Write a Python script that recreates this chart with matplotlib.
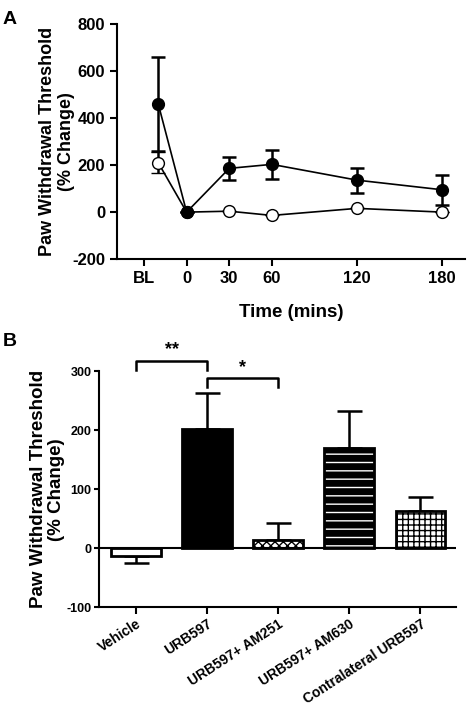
import matplotlib.pyplot as plt
import numpy as np

plt.rcParams['font.family'] = ['Liberation Sans', 'DejaVu Sans']
plt.rcParams['font.weight'] = 'bold'
plt.rcParams['axes.labelweight'] = 'bold'
plt.rcParams['axes.unicode_minus'] = False

# Panel A data
time_x = [-20, 0, 30, 60, 120, 180]
tick_pos = [-30, 0, 30, 60, 120, 180]
tick_lbl = ['BL', '0', '30', '60', '120', '180']
urb_mean = [460, 0, 186, 203, 136, 95]
urb_err = [200, 0, 48, 61, 53, 64]
ctrl_mean = [210, 0, 4, -14, 16, 0]
ctrl_err = [45, 0, 0, 0, 0, 0]

# Panel B data
groups = ['Vehicle', 'URB597', 'URB597+ AM251', 'URB597+ AM630', 'Contralateral URB597']
bar_vals = [-13, 203, 14, 171, 63]
bar_err = [12, 61, 29, 62, 24]

fig = plt.figure(figsize=(4.72, 7.24), dpi=100)

# ---- A ----
ax = fig.add_axes([0.248, 0.642, 0.737, 0.325])
ax.errorbar(time_x, ctrl_mean, yerr=ctrl_err, color='black', lw=1.2, elinewidth=1.8,
            capsize=5, capthick=1.8, marker='o', ms=8.5, mfc='white', mec='black', mew=1, zorder=3)
ax.errorbar(time_x, urb_mean, yerr=urb_err, color='black', lw=1.2, elinewidth=1.8,
            capsize=5, capthick=1.8, marker='o', ms=8.5, mfc='black', mec='black', zorder=4)
ax.set_xlim(-49, 196)
ax.set_ylim(-200, 800)
ax.set_yticks(range(-200, 801, 200))
ax.set_xticks(tick_pos)
ax.set_xticklabels(tick_lbl)
for s in ['top', 'right']:
    ax.spines[s].set_visible(False)
for s in ['left', 'bottom']:
    ax.spines[s].set_linewidth(1.5)
ax.tick_params(width=1.5, length=5, labelsize=12)
ax.set_ylabel('Paw Withdrawal Threshold\n(% Change)', fontsize=13, linespacing=1.15)
ax.yaxis.set_label_coords(-0.12, 0.5)
ax.set_xlabel('Time (mins)', fontsize=13.5)
ax.xaxis.set_label_coords(0.5, -0.19)
fig.text(0.005, 0.985, 'A', fontsize=14, fontweight='bold', va='top')

# ---- B ----
bx = fig.add_axes([0.21, 0.161, 0.756, 0.326])
x = np.arange(len(groups))
w = 0.7
faces = ['white', 'black', 'white', 'black', 'white']
hatches = [None, None, 'xxxx', '--', '+++']
hcols = ['black', 'black', 'black', 'white', 'black']
for i in range(len(groups)):
    bx.bar(x[i], bar_vals[i], w, color=faces[i], edgecolor=hcols[i], hatch=hatches[i],
           linewidth=0, zorder=2)
    bx.bar(x[i], bar_vals[i], w, fill=False, edgecolor='black', linewidth=2, zorder=3)
    sgn = 1 if bar_vals[i] >= 0 else -1
    bx.errorbar(x[i], bar_vals[i], yerr=[[0], [bar_err[i]]] if sgn > 0 else [[bar_err[i]], [0]],
                fmt='none', ecolor='black', elinewidth=1.8, capsize=9, capthick=1.8, zorder=1)
bx.axhline(0, color='black', lw=1.5, zorder=4)
bx.set_xlim(-0.52, 4.5)
bx.set_ylim(-100, 300)
bx.set_yticks([-100, 0, 100, 200, 300])
bx.set_xticks(x)
bx.set_xticklabels(groups, rotation=33, ha='right', rotation_mode='anchor', fontsize=10)
for s in ['top', 'right']:
    bx.spines[s].set_visible(False)
for s in ['left', 'bottom']:
    bx.spines[s].set_linewidth(1.5)
bx.tick_params(width=1.5, length=3.5, pad=2, labelsize=9)
bx.tick_params(axis='x', labelsize=10, length=5)
bx.set_ylabel('Paw Withdrawal Threshold\n(% Change)', fontsize=13.5, linespacing=1.1)
bx.yaxis.set_label_coords(-0.095, 0.5)

# significance brackets
bx.plot([0, 0, 1, 1], [303, 318, 318, 303], color='black', lw=1.8, clip_on=False)
bx.text(0.5, 322, '**', ha='center', va='bottom', fontsize=13)
bx.plot([1, 1, 2, 2], [274, 289, 289, 274], color='black', lw=1.8, clip_on=False)
bx.text(1.5, 292, '*', ha='center', va='bottom', fontsize=13)
fig.text(0.005, 0.54, 'B', fontsize=14, fontweight='bold', va='top')

fig.savefig('out.png', dpi=100)
